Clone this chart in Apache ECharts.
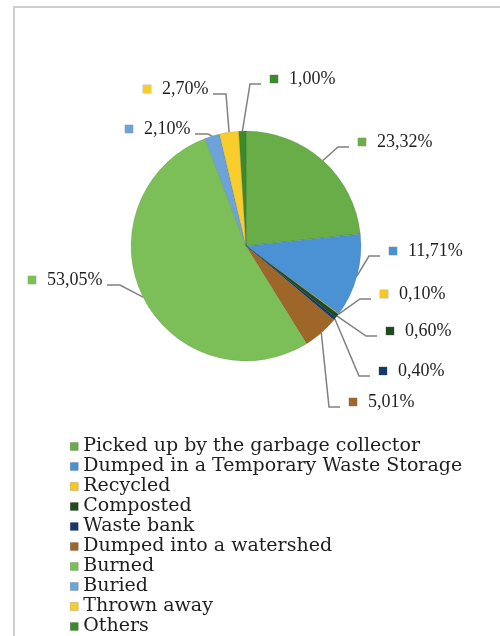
<!DOCTYPE html>
<html>
<head>
<meta charset="utf-8">
<title>Waste handling</title>
<script src="https://cdn.jsdelivr.net/npm/echarts@6/dist/echarts.min.js"></script>
<style>
html, body { margin: 0; padding: 0; background: #fff; }
#pie { width: 500px; height: 636px; }
</style>
</head>
<body>
<div id="pie"></div>
<script>
// categories, in pie order (clockwise from 12 o'clock)
var names = [
	"Picked up by the garbage collector",
	"Dumped in a Temporary Waste Storage",
	"Recycled",
	"Composted",
	"Waste bank",
	"Dumped into a watershed",
	"Burned",
	"Buried",
	"Thrown away",
	"Others"
];
// percentages
var values = [23.32, 11.71, 0.10, 0.60, 0.40, 5.01, 53.05, 2.10, 2.70, 1.00];
var colors = ["#68ad48", "#4b92d4", "#f6c825", "#1f4b1f", "#143a68",
	"#9e6629", "#7cbf58", "#6ea3da", "#f8cd2c", "#3c8a2e"];

// where each data label sits (left of the colour square, vertical middle)
var labelX = [358, 389, 380, 386, 379, 349, 28, 125, 143, 270];
var labelY = [142, 251, 294, 331, 371, 402, 280, 129, 89, 79];

var chart = echarts.init(document.getElementById("pie"));

function fmt(v) {
	return v.toFixed(2).replace(".", ",") + "%";
}

function buildData() {
	var data = [];
	for (var i = 0; i < names.length; i++) {
		data.push({
			name: names[i],
			value: values[i],
			itemStyle: { color: colors[i] },
			label: {
				rich: {
					box: { width: 8, height: 8, backgroundColor: colors[i],
						borderColor: "rgba(0,0,0,0.25)", borderWidth: 0.5 },
					gap: { width: 11 },
					v: { fontFamily: "Liberation Serif", fontSize: 18, color: "#1e1e1e" }
				}
			}
		});
	}
	return data;
}

// move labels to where they are in the picture, leader line: slice -> turn -> label
function placeLabel(params) {
	var i = params.dataIndex;
	var x = labelX[i], y = labelY[i];
	var pts = params.labelLinePoints;
	var anchor = pts ? pts[0] : [x, y];
	var ly = y + 5;
	var end, turn;
	if (x > 246) {
		end = [x - 9, ly];
		turn = [x - 20, ly];
	} else {
		end = [x + params.labelRect.width + 4, ly];
		turn = [end[0] + 13, ly];
	}
	return {
		x: x,
		y: y,
		align: "left",
		verticalAlign: "middle",
		labelLinePoints: [anchor, turn, end]
	};
}

var option = {
	animation: false,
	backgroundColor: "#fff",
	graphic: [{
		type: "rect",
		shape: { x: 14, y: 7, width: 600, height: 800 },
		style: { fill: "none", stroke: "#cfcfcf", lineWidth: 2 },
		silent: true
	}],
	legend: {
		orient: "vertical",
		left: 70,
		top: 437,
		height: 260,
		padding: 0,
		data: names,
		icon: "rect",
		itemWidth: 8,
		itemHeight: 8,
		itemGap: 1,
		selectedMode: false,
		itemStyle: { borderWidth: 0.5, borderColor: "rgba(0,0,0,0.3)" },
		textStyle: { fontFamily: "DejaVu Serif", fontSize: 19, color: "#1e1e1e" }
	},
	series: [{
		type: "pie",
		center: [246, 246],
		radius: 115,
		startAngle: 90,
		clockwise: true,
		avoidLabelOverlap: false,
		itemStyle: { borderColor: "rgba(0,0,0,0.12)", borderWidth: 0.8 },
		label: {
			show: true,
			position: "outside",
			formatter: function (p) {
				return "{box|}{gap|}{v|" + fmt(p.value) + "}";
			}
		},
		labelLine: {
			show: true,
			length: 10,
			length2: 10,
			lineStyle: { color: "#808080", width: 1.5 }
		},
		labelLayout: placeLabel,
		emphasis: { disabled: true },
		data: buildData()
	}]
};
chart.setOption(option);
</script>
</body>
</html>
